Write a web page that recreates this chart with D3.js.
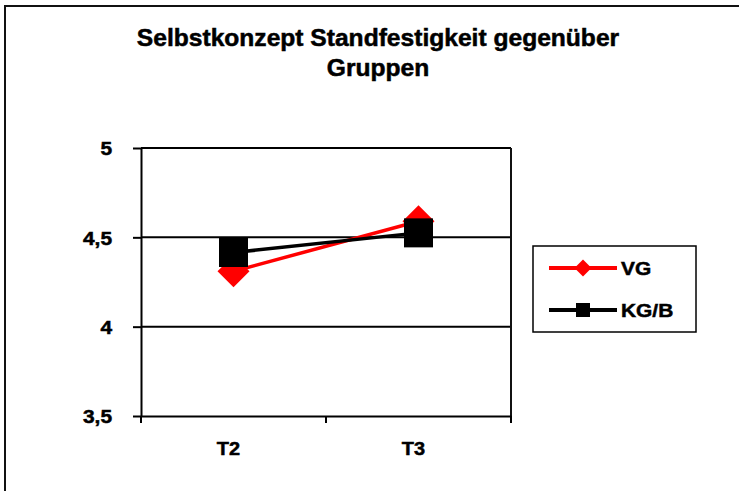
<!DOCTYPE html>
<html>
<head>
<meta charset="utf-8">
<script src="https://cdn.jsdelivr.net/npm/d3@7"></script>
<style>
  body { margin: 0; background: #fff; }
  text { font-family: "Liberation Sans", Arial, sans-serif; font-weight: bold; fill: #000; stroke: #000; stroke-width: 0.5px; }
</style>
</head>
<body>
<div id="chart"></div>
<script>
// data
var categories = ["T2", "T3"];
var seriesNames = ["VG", "KG/B"];
var vgValues = [4.31, 4.59];
var kgbValues = [4.415, 4.525];
var yTicks = [3.5, 4, 4.5, 5];
var titleLines = ["Selbstkonzept Standfestigkeit gegenüber", "Gruppen"];

var svgWidth = 739;
var svgHeight = 491;

var plot = { left: 141, right: 511, top: 148, bottom: 416 };

var svg = d3.select("#chart").append("svg")
    .attr("width", svgWidth)
    .attr("height", svgHeight);

// outer chart border
svg.append("rect")
    .attr("x", 5).attr("y", 6)
    .attr("width", 760).attr("height", 500)
    .attr("fill", "#fff")
    .attr("stroke", "#111")
    .attr("stroke-width", 2);

// helper for horizontally stretched text (the original is a bit wider)
function stretchText(sel, x, sx) {
    sel.attr("x", x / sx).attr("transform", "scale(" + sx + ",1)");
}

// title
svg.selectAll(".title")
    .data(titleLines)
    .enter()
    .append("text")
    .attr("class", "title")
    .attr("y", (d, i) => 46 + i * 30)
    .attr("text-anchor", "middle")
    .attr("font-size", "23px")
    .text(d => d)
    .call(stretchText, 378, 1.07);

// scales
var xScale = d3.scaleBand()
    .domain(categories)
    .range([plot.left, plot.right])
    .padding(0);

var yScale = d3.scaleLinear()
    .domain([3.5, 5])
    .range([plot.bottom, plot.top]);

var cx = d => xScale(d) + xScale.bandwidth() / 2;

// gridlines
svg.append("g")
    .selectAll("line")
    .data(yTicks.filter(d => d > 3.5))
    .enter()
    .append("line")
    .attr("x1", plot.left).attr("x2", plot.right)
    .attr("y1", d => yScale(d)).attr("y2", d => yScale(d))
    .attr("stroke", "#000")
    .attr("stroke-width", 2);

// right plot border
svg.append("line")
    .attr("x1", plot.right).attr("x2", plot.right)
    .attr("y1", plot.top).attr("y2", plot.bottom)
    .attr("stroke", "#111")
    .attr("stroke-width", 2);

// y axis
var leftAxis = d3.axisLeft(yScale)
    .tickValues(yTicks)
    .tickSize(8)
    .tickSizeOuter(0)
    .tickFormat(d => String(d).replace(".", ","));

var yAxis = svg.append("g")
    .attr("transform", `translate(${plot.left},0)`)
    .call(leftAxis);
yAxis.select(".domain").attr("stroke", "#000").attr("stroke-width", 2);
yAxis.selectAll(".tick line").attr("stroke", "#000").attr("stroke-width", 2);
yAxis.selectAll(".tick text")
    .attr("font-size", "19px")
    .attr("font-family", null)
    .attr("dy", "0.36em")
    .call(stretchText, -29, 1.1);

// x axis (labels at band centres, ticks at band edges)
var bottomAxis = d3.axisBottom(xScale)
    .tickSize(0)
    .tickSizeOuter(0);

var xAxis = svg.append("g")
    .attr("transform", `translate(0,${plot.bottom})`)
    .call(bottomAxis);
xAxis.select(".domain").attr("stroke", "#000").attr("stroke-width", 2);
xAxis.selectAll(".tick text")
    .attr("font-size", "19px")
    .attr("font-family", null)
    .attr("y", 39)
    .attr("dy", 0)
    .call(stretchText, -5, 1.05);

xAxis.selectAll(".edge")
    .data(categories.map(d => xScale(d)).concat([plot.right]))
    .enter()
    .append("line")
    .attr("class", "edge")
    .attr("x1", d => d).attr("x2", d => d)
    .attr("y1", 0).attr("y2", 7)
    .attr("stroke", "#000")
    .attr("stroke-width", 2);

// series
var series = [
    { name: seriesNames[0], values: vgValues, color: "#ff0000", symbol: "diamond" },
    { name: seriesNames[1], values: kgbValues, color: "#000000", symbol: "square" }
];

var line = d3.line()
    .x((d, i) => cx(categories[i]))
    .y(d => yScale(d));

series.forEach(function(s) {
    var g = svg.append("g");
    g.append("path")
        .datum(s.values)
        .attr("fill", "none")
        .attr("stroke", s.color)
        .attr("stroke-width", 3.5)
        .attr("d", line);

    g.selectAll(".marker")
        .data(s.values)
        .enter()
        .append("path")
        .attr("class", "marker")
        .attr("transform", (d, i) => `translate(${cx(categories[i])},${yScale(d)})`)
        .attr("d", s.symbol === "square"
            ? "M-14.5,-14.5H14.5V14.5H-14.5Z"
            : "M0,-16L16,0L0,16L-16,0Z")
        .attr("fill", s.color);
});

// legend
var legend = svg.append("g");
legend.append("rect")
    .attr("x", 533).attr("y", 246)
    .attr("width", 163).attr("height", 86)
    .attr("fill", "#fff")
    .attr("stroke", "#000")
    .attr("stroke-width", 1.5);

var legendItems = legend.selectAll(".item")
    .data(series)
    .enter()
    .append("g")
    .attr("class", "item")
    .attr("transform", (d, i) => `translate(0,${268 + i * 42})`);

legendItems.append("line")
    .attr("x1", 549).attr("x2", 617)
    .attr("y1", 0).attr("y2", 0)
    .attr("stroke", d => d.color)
    .attr("stroke-width", 4);

legendItems.append("path")
    .attr("transform", "translate(583,0)")
    .attr("d", d => d.symbol === "square"
        ? "M-7,-7H7V7H-7Z"
        : "M0,-8.5L8.5,0L0,8.5L-8.5,0Z")
    .attr("fill", d => d.color);

legendItems.append("text")
    .attr("y", 7)
    .attr("font-size", "19px")
    .text(d => d.name)
    .call(stretchText, 621, 1.1);
</script>
</body>
</html>
